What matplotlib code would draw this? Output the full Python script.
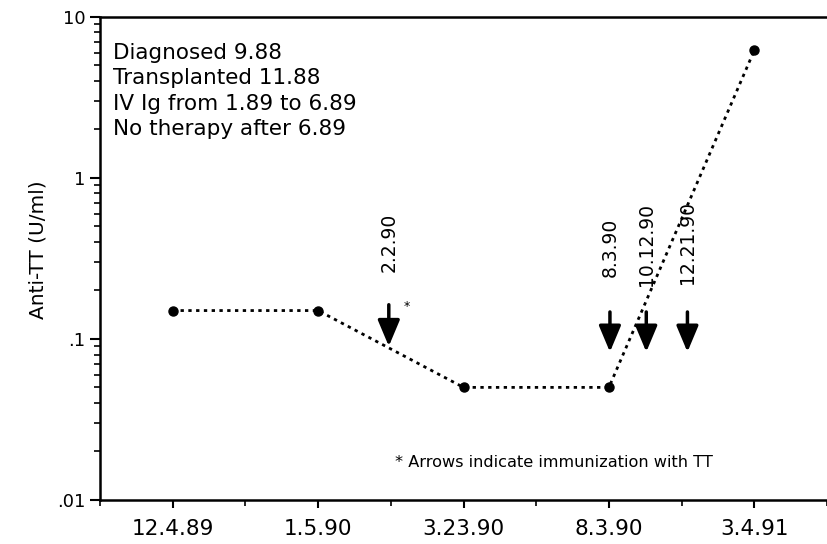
import matplotlib
matplotlib.use('Agg')
import matplotlib.pyplot as plt
from matplotlib.ticker import FixedLocator, LogLocator, NullFormatter

plt.rcParams['font.family'] = ['DejaVu Sans']

# measured anti-TT values
dates = ['12.4.89', '1.5.90', '3.23.90', '8.3.90', '3.4.91']
anti_tt = [0.15, 0.15, 0.05, 0.05, 6.2]

# immunizations (arrows)
immun_labels = ['2.2.90', '8.3.90', '10.12.90', '12.21.90']
immun_x = [1.486, 3.007, 3.257, 3.54]
arrow_top = [0.163, 0.147, 0.147, 0.147]
arrow_tip = [0.090, 0.083, 0.083, 0.083]
label_base = [0.26, 0.243, 0.214, 0.22]

notes = ['Diagnosed 9.88', 'Transplanted 11.88', 'IV Ig from 1.89 to 6.89', 'No therapy after 6.89']

fig = plt.figure(figsize=(8.27, 5.44), dpi=100)
ax = fig.add_axes([0.121, 0.081, 0.879, 0.888])

x = list(range(len(dates)))
ax.plot(x, anti_tt, linestyle=(0, (1.2, 1.6)), color='black', lw=2,
        marker='o', markersize=6.5, markerfacecolor='black', markeredgecolor='black')

ax.set_yscale('log')
ax.set_ylim(0.01, 10)
ax.set_xlim(-0.493, 4.419)

ax.yaxis.set_major_locator(FixedLocator([0.01, 0.1, 1, 10]))
ax.set_yticklabels(['.01', '.1', '1', '10'])
ax.yaxis.set_minor_locator(LogLocator(base=10, subs=range(2, 10)))
ax.yaxis.set_minor_formatter(NullFormatter())
ax.tick_params(axis='y', which='major', direction='out', length=7, width=1.5, labelsize=13)
ax.tick_params(axis='y', which='minor', direction='out', length=4, width=1.2)

ax.set_xticks(x)
ax.set_xticklabels(dates)
ax.set_xticks([i + 0.5 for i in range(-1, 5)], minor=True)
ax.tick_params(axis='x', which='major', direction='out', length=6, width=1.5, labelsize=15.5, pad=8)
ax.tick_params(axis='x', which='minor', direction='out', length=4, width=1.2)

ax.spines['right'].set_visible(False)
for s in ['left', 'bottom', 'top']:
    ax.spines[s].set_linewidth(1.8)

ax.set_ylabel('Anti-TT (U/ml)', fontsize=14.5)
ax.yaxis.set_label_coords(-0.072, 0.518)

for i in range(len(immun_x)):
    ax.annotate('', xy=(immun_x[i], arrow_tip[i]), xytext=(immun_x[i], arrow_top[i]),
                arrowprops=dict(arrowstyle='-|>,head_length=1.0,head_width=0.42',
                                mutation_scale=16, color='black', lw=2.5,
                                shrinkA=0, shrinkB=0))
    ax.text(immun_x[i], label_base[i], immun_labels[i], rotation=90,
            ha='center', va='bottom', fontsize=13.5)

ax.text(1.608, 0.16, '*', fontsize=9, ha='center', va='center')

ax.text(0.018, 0.946, '\n'.join(notes), transform=ax.transAxes,
        ha='left', va='top', fontsize=15.5, linespacing=1.34)

ax.text(1.53, 0.0172, '* Arrows indicate immunization with TT', fontsize=11.6,
        ha='left', va='center', family=['DejaVu Sans Condensed', 'DejaVu Sans'])

fig.savefig('out.png', dpi=100)
